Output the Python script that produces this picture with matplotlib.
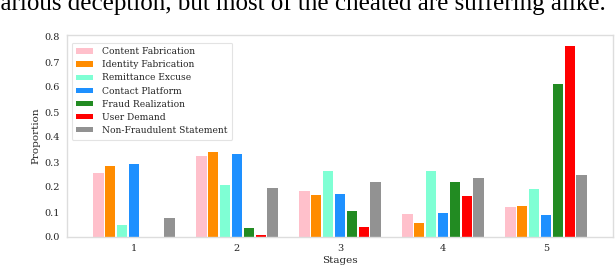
import matplotlib
matplotlib.use('Agg')
import matplotlib.pyplot as plt
import numpy as np

stages = ["1", "2", "3", "4", "5"]
categories = ["Content Fabrication", "Identity Fabrication", "Remittance Excuse",
              "Contact Platform", "Fraud Realization", "User Demand",
              "Non-Fraudulent Statement"]
proportions = {
    "Content Fabrication":      [0.258, 0.326, 0.186, 0.093, 0.121],
    "Identity Fabrication":     [0.286, 0.342, 0.170, 0.057, 0.125],
    "Remittance Excuse":        [0.049, 0.210, 0.264, 0.264, 0.192],
    "Contact Platform":         [0.294, 0.334, 0.174, 0.097, 0.089],
    "Fraud Realization":        [0.000, 0.038, 0.104, 0.220, 0.613],
    "User Demand":              [0.000, 0.010, 0.041, 0.165, 0.766],
    "Non-Fraudulent Statement": [0.077, 0.198, 0.220, 0.237, 0.248],
}
colors = ["pink", "darkorange", "aquamarine", "dodgerblue", "forestgreen", "red", "#929292"]

plt.rcParams['font.family'] = 'DejaVu Serif'
plt.rcParams['text.color'] = '.15'
plt.rcParams['axes.labelcolor'] = '.15'
plt.rcParams['xtick.color'] = '.15'
plt.rcParams['ytick.color'] = '.15'

fig = plt.figure(figsize=(6.16, 2.68), dpi=100)
ax = fig.add_axes([67 / 616, 31 / 268, 546 / 616, 202 / 268])

x = np.arange(len(stages))
step, width = 0.115, 0.1
n = len(categories)
for i, (cat, col) in enumerate(zip(categories, colors)):
    ax.bar(x + (i - (n - 1) / 2) * step, proportions[cat], width, color=col, label=cat)

ax.set_xticks(x)
ax.set_xticklabels(stages)
ax.set_xlim(-0.65, 4.65)
ax.set_ylim(0, 0.808)
ax.set_yticks(np.arange(0, 0.81, 0.1))
ax.tick_params(labelsize=7, length=0, pad=5)
ax.set_xlabel("Stages", fontsize=7.5, labelpad=2)
ax.set_ylabel("Proportion", fontsize=7.5, labelpad=3)
for s in ax.spines.values():
    s.set_color('#dddddd')
    s.set_linewidth(1.0)

leg = ax.legend(loc='upper left', fontsize=6.6, frameon=True, handlelength=1.85,
                handleheight=0.5, handletextpad=1.0, labelspacing=0.45,
                borderpad=0.5, bbox_to_anchor=(0.0, 0.985))
leg.get_frame().set_edgecolor('#dddddd')
leg.get_frame().set_linewidth(0.8)

fig.text(-0.02, 1 - 10 / 268, "various deception, but most of the cheated are suffering alike.",
         fontsize=18, family='Liberation Serif', color='black', va='baseline', ha='left')

fig.savefig("out.png", dpi=100)
